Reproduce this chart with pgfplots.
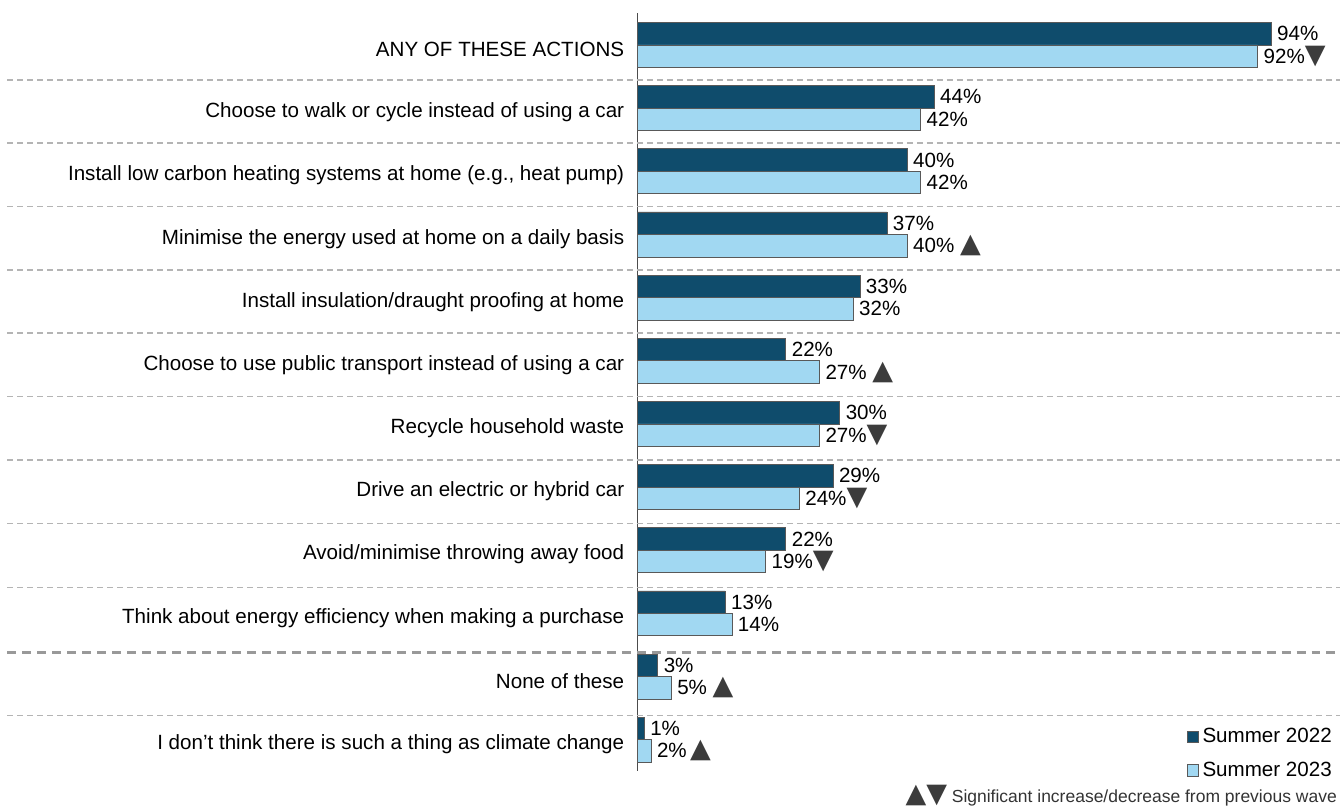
\documentclass[border=0pt]{standalone}
\usepackage{pgfplots}
\pgfplotsset{compat=1.18}
\usepackage{fontspec}
\setmainfont{Liberation Sans}
\newfontfamily\symfont{DejaVu Sans}
\definecolor{dark}{HTML}{0F4C6C}
\definecolor{light}{HTML}{A1D8F2}
\definecolor{tri}{HTML}{3C3C3C}
\definecolor{sepc}{HTML}{B4B4B4}
\newcommand\up{{\symfont\fontsize{13.5}{12}\selectfont\textcolor{tri}{▲}}}
\newcommand\dn{{\symfont\fontsize{13.5}{12}\selectfont\textcolor{tri}{▼}}}
\begin{document}
\begin{tikzpicture}
\begin{axis}[
  scale only axis, width=351.4pt, height=379.2pt,
  xmin=0, xmax=104.2, ymin=-0.5, ymax=11.5, y dir=reverse,
  xbar, bar width=0.356,
  axis x line=none, axis y line*=left,
  y axis line style={black!70, line width=0.6pt},
  ytick={0,...,11},
  yticklabels={ANY OF THESE ACTIONS,
    Choose to walk or cycle instead of using a car,
    {Install low carbon heating systems at home (e.g., heat pump)},
    Minimise the energy used at home on a daily basis,
    Install insulation/draught proofing at home,
    Choose to use public transport instead of using a car,
    Recycle household waste,
    Drive an electric or hybrid car,
    Avoid/minimise throwing away food,
    Think about energy efficiency when making a purchase,
    None of these,
    I don’t think there is such a thing as climate change},
  ytick style={draw=none}, major tick length=0pt,
  yticklabel style={font=\fontsize{10.3}{12}\selectfont, anchor=east, inner sep=0pt, xshift=-6.5pt, yshift=-2.2pt},
  clip=false,
  point meta=explicit symbolic,
  nodes near coords={\pgfplotspointmeta},
  nodes near coords style={font=\fontsize{10.3}{12}\selectfont, anchor=west, inner sep=2.8pt, text=black},
  legend style={at={(axis cs:103.65,10.75)}, anchor=north east, draw=none, fill=none,
    font=\fontsize{10.3}{12}\selectfont, inner sep=0pt, row sep=4pt, legend cell align=left},
]
\addplot[fill=dark, draw=black!65, line width=0.4pt, bar shift=-0.178,
  legend image code/.code={\draw[fill=dark,draw=black!65] (-2pt,-2.8pt) rectangle (3.6pt,2.8pt);}]
  coordinates {
  (94,0) [94\%]
  (44,1) [44\%]
  (40,2) [40\%]
  (37,3) [37\%]
  (33,4) [33\%]
  (22,5) [22\%]
  (30,6) [30\%]
  (29,7) [29\%]
  (22,8) [22\%]
  (13,9) [13\%]
  (3,10) [3\%]
  (1,11) [1\%]
};
\addlegendentry{Summer 2022}
\addplot[fill=light, draw=black!65, line width=0.4pt, bar shift=0.178,
  legend image code/.code={\draw[fill=light,draw=black!65] (-2pt,-2.8pt) rectangle (3.6pt,2.8pt);}]
  coordinates {
  (92,0) [92\%\dn]
  (42,1) [42\%]
  (42,2) [42\%]
  (40,3) [40\%\ \up]
  (32,4) [32\%]
  (27,5) [27\%\ \up]
  (27,6) [27\%\dn]
  (24,7) [24\%\dn]
  (19,8) [19\%\dn]
  (14,9) [14\%]
  (5,10) [5\%\ \up]
  (2,11) [2\%\,\up]
};
\addlegendentry{Summer 2023}
\pgfplotsinvokeforeach{0.554,1.55,2.56,3.56,4.56,5.57,6.57,7.58,8.59,10.62}{
  \draw[sepc, line width=0.7pt, dash pattern=on 3pt off 2pt] (axis cs:-93.5,#1) -- (axis cs:104.2,#1);
}
\draw[black!40, line width=1.1pt, dash pattern=on 4.5pt off 3pt] (axis cs:-93.5,9.62) -- (axis cs:104.2,9.62);
\node[anchor=east, inner sep=0pt, font=\fontsize{8.75}{10}\selectfont, text=black!80] at (axis cs:103.8,11.88)
  {{\symfont\fontsize{13.5}{12}\selectfont\textcolor{tri}{▲▼}} Significant increase/decrease from previous wave};
\path (axis cs:-94.59,-0.712) rectangle (axis cs:104.2,12.025);
\end{axis}
\end{tikzpicture}
\end{document}
